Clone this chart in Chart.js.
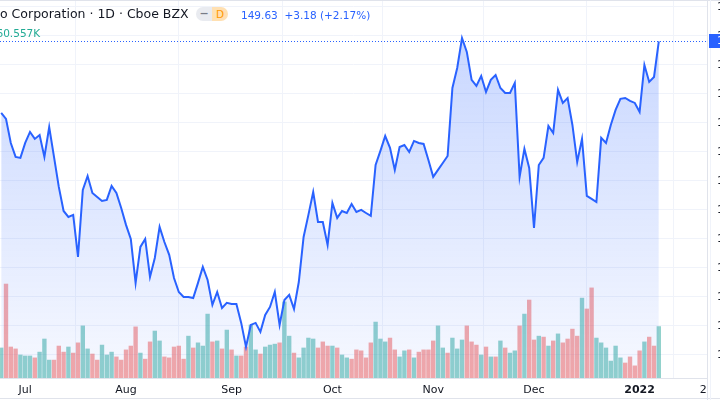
<!DOCTYPE html>
<html>
<head>
<meta charset="utf-8">
<script src="https://cdn.jsdelivr.net/npm/chart.js@4.4.1/dist/chart.umd.min.js"></script>
<style>
    html, body { margin: 0; padding: 0; width: 720px; height: 400px; overflow: hidden; background: #fff; }
    body { position: relative; font-family: 'DejaVu Sans', sans-serif; }
    #wrap { position: absolute; left: 0; top: 0; width: 790px; height: 400px; }
    .lg { position: absolute; white-space: nowrap; }
    #title { left: 0; top: 6px; font-size: 12.5px; line-height: 16px; color: #131722; }
    #badge { left: 196px; top: 7px; height: 14px; width: 32px; border-radius: 7px; overflow: hidden; display: flex; }
    #badge .l { width: 16px; background: #e9ebf0; color: #787b86; font-size: 11px; line-height: 14px; text-align: center; font-weight: bold; }
    #badge .r { width: 16px; background: #ffe0b2; color: #ff9800; font-size: 10.5px; line-height: 14px; text-align: center; }
    #price { left: 241px; top: 8px; font-size: 10.5px; line-height: 14px; color: #2962ff; }
    #vol { left: -3.5px; top: 26px; font-size: 10.5px; line-height: 14px; color: #22ab94; }
</style>
</head>
<body>
<div id="wrap"><canvas id="chart" width="790" height="400"></canvas></div>
<div class="lg" id="title">o Corporation · 1D · Cboe BZX</div>
<div class="lg" id="badge"><div class="l">−</div><div class="r">D</div></div>
<div class="lg" id="price">149.63&nbsp; +3.18 (+2.17%)</div>
<div class="lg" id="vol">60.557K</div>
<script>
// trading-day index of the first point (0 = Jul 1)
const firstIndex = -5;

// daily close
const prices = [
    144.69, 144.28, 142.62, 141.66, 141.59,
    142.62, 143.38, 142.90, 143.17, 141.66, 143.72, 141.66, 139.59, 137.93, 137.52,
    137.66, 134.76, 139.38, 140.34, 139.17, 138.90, 138.62, 138.69, 139.66, 139.17,
    138.14, 136.97, 136.00, 132.97, 135.45, 136.00, 133.38, 134.69, 136.83, 135.79,
    134.90, 133.31, 132.34, 132.00, 132.00, 131.93, 132.97, 134.07, 133.17, 131.45,
    132.34, 131.24, 131.59, 131.52, 131.52, 130.21, 128.55, 130.07, 130.21, 129.59,
    130.76, 131.31, 132.34, 130.07, 131.79, 132.14, 131.17, 133.03, 136.14, 137.66,
    139.24, 137.17, 137.17, 135.59, 138.48, 137.45, 137.93, 137.79, 138.41, 137.86,
    138.00, 137.79, 137.59, 141.10, 142.07, 143.10, 142.28, 140.76, 142.34, 142.48,
    142.00, 142.76, 142.62, 142.55, 141.45, 140.28, 140.76, 141.24, 141.72, 146.41,
    147.79, 149.86, 148.90, 146.97, 146.55, 147.24, 146.14, 146.97, 147.31, 146.41,
    146.07, 146.07, 146.76, 140.28, 142.21, 140.90, 136.76, 141.10, 141.59, 143.79,
    143.31, 146.28, 145.38, 145.72, 143.86, 141.31, 142.90, 138.97, 138.76, 138.55,
    142.97, 142.62, 143.86, 144.90, 145.66, 145.72, 145.52, 145.38, 144.76, 148.00,
    146.83, 147.17, 149.63
];

// daily volume, thousands
const volumes = [
    94, 294, 97, 91, 72,
    69, 69, 63, 81, 122, 56, 56, 100, 81, 97,
    78, 110, 163, 91, 75, 56, 103, 72, 81, 66,
    56, 88, 100, 160, 78, 59, 113, 147, 116, 66,
    63, 97, 100, 59, 131, 94, 110, 100, 200, 113,
    116, 91, 150, 88, 69, 69, 97, 166, 88, 75,
    97, 103, 106, 110, 238, 131, 78, 63, 94, 125,
    122, 94, 113, 100, 100, 94, 72, 63, 59, 88,
    85, 63, 110, 175, 122, 113, 125, 88, 66, 85,
    88, 63, 81, 88, 88, 116, 163, 94, 78, 125,
    91, 119, 163, 113, 103, 72, 97, 66, 66, 116,
    94, 78, 85, 163, 200, 244, 119, 131, 128, 100,
    116, 138, 110, 122, 153, 131, 250, 216, 282, 125,
    110, 94, 53, 100, 63, 47, 66, 38, 85, 113,
    128, 100, 161
];

// 1 = up day (teal), 0 = down day (red)
const volumeUp = [
    1, 0, 0, 0, 1,
    1, 1, 0, 1, 1, 1, 0, 0, 0, 1,
    0, 0, 1, 1, 0, 0, 1, 1, 1, 0,
    0, 0, 0, 0, 1, 0, 0, 1, 1, 0,
    0, 0, 0, 0, 1, 0, 1, 1, 1, 0,
    1, 0, 1, 0, 1, 0, 0, 1, 1, 0,
    1, 1, 1, 0, 1, 1, 0, 1, 1, 1,
    1, 0, 0, 0, 1, 0, 1, 1, 0, 0,
    0, 0, 0, 1, 1, 1, 0, 0, 1, 1,
    0, 1, 0, 0, 0, 0, 1, 1, 0, 1,
    1, 1, 0, 0, 0, 1, 0, 1, 0, 1,
    0, 1, 1, 0, 1, 0, 0, 1, 0, 1,
    0, 1, 0, 0, 0, 0, 1, 0, 0, 1,
    1, 1, 1, 1, 1, 0, 0, 0, 0, 1,
    0, 0, 1
];

// time axis
const timeTicks = [0, 21, 43, 64, 85, 106, 128, 142];
const timeLabels = ['Jul', 'Aug', 'Sep', 'Oct', 'Nov', 'Dec', '2022', '24'];

// price axis
const priceTicks = [128, 130, 132, 134, 136, 138, 140, 142, 144, 146, 148, 150, 152];

Chart.defaults.font.family = "'DejaVu Sans', sans-serif";

// dotted last-price line, price label, panel borders
const lastPricePlugin = {
    id: 'lastPrice',
    afterDatasetsDraw(chart) {
        const { ctx, chartArea } = chart;
        const y = Math.round(chart.scales.y.getPixelForValue(prices[prices.length - 1])) + 0.5;
        ctx.save();
        ctx.strokeStyle = '#2962ff';
        ctx.lineWidth = 1;
        ctx.setLineDash([1, 2]);
        ctx.beginPath();
        ctx.moveTo(chartArea.left, y);
        ctx.lineTo(chartArea.right, y);
        ctx.stroke();
        ctx.restore();
    },
    afterDraw(chart) {
        const { ctx, chartArea } = chart;
        const w = chart.width, h = chart.height;
        ctx.save();
        // time labels stop at the price panel
        ctx.fillStyle = '#fff';
        ctx.fillRect(chartArea.right + 1, chartArea.bottom + 1, w, h);
        ctx.strokeStyle = '#e0e3eb';
        ctx.lineWidth = 1;
        ctx.beginPath();
        ctx.moveTo(chartArea.right + 0.5, 0);
        ctx.lineTo(chartArea.right + 0.5, h);
        ctx.moveTo(0, 0.5);
        ctx.lineTo(w, 0.5);
        ctx.moveTo(0, h - 1.5);
        ctx.lineTo(w, h - 1.5);
        ctx.stroke();
        ctx.strokeStyle = '#f0f3fa';
        ctx.beginPath();
        ctx.moveTo(chartArea.right + 3.5, 0);
        ctx.lineTo(chartArea.right + 3.5, h);
        ctx.stroke();
        // last price label
        const last = prices[prices.length - 1];
        const y = chart.scales.y.getPixelForValue(last);
        ctx.fillStyle = '#2962ff';
        ctx.fillRect(chartArea.right + 2, Math.round(y) - 7, 80, 14);
        ctx.fillStyle = '#fff';
        ctx.font = "11px 'DejaVu Sans'";
        ctx.textBaseline = 'middle';
        ctx.fillText(last.toFixed(2), chartArea.right + 10, y);
        ctx.restore();
    }
};

// no extra room for half-labels at the ends of the axes
function noEndPadding(s) {
    s.paddingTop = 0;
    s.paddingBottom = 0;
    s.paddingLeft = 0;
    s.paddingRight = 0;
}

const xs = prices.map((_, k) => firstIndex + k);

new Chart(document.getElementById('chart').getContext('2d'), {
    data: {
        datasets: [
            {
                type: 'line',
                data: xs.map((x, k) => ({ x: x, y: prices[k] })),
                yAxisID: 'y',
                borderColor: '#2962ff',
                borderWidth: 2,
                pointRadius: 0,
                tension: 0,
                fill: 'start',
                backgroundColor: (c) => {
                    const area = c.chart.chartArea;
                    if (!area) return 'rgba(41,98,255,0.1)';
                    const g = c.chart.ctx.createLinearGradient(0, area.top, 0, area.bottom);
                    g.addColorStop(0, 'rgba(41,98,255,0.28)');
                    g.addColorStop(1, 'rgba(41,98,255,0.04)');
                    return g;
                },
                order: 1
            },
            {
                type: 'bar',
                data: xs.map((x, k) => ({ x: x, y: volumes[k] })),
                yAxisID: 'vol',
                backgroundColor: volumeUp.map(u => u ? 'rgba(38,166,154,0.5)' : 'rgba(239,83,80,0.5)'),
                barThickness: 3.7,
                order: 2
            }
        ]
    },
    options: {
        responsive: false,
        animation: false,
        layout: { padding: 0 },
        plugins: {
            legend: { display: false },
            tooltip: { enabled: false }
        },
        scales: {
            x: {
                type: 'linear',
                min: -5.25,
                max: 142.04,
                offset: false,
                grid: { color: '#f0f3fa', drawTicks: false },
                border: { color: '#e0e3eb' },
                afterBuildTicks: (s) => { s.ticks = timeTicks.map(v => ({ value: v })); },
                afterFit: (s) => { s.height = 22; noEndPadding(s); },
                ticks: {
                    autoSkip: false,
                    maxRotation: 0,
                    padding: 6,
                    color: '#131722',
                    font: (c) => ({ size: 11, weight: (c.tick && c.tick.value === 128) ? 'bold' : 'normal' }),
                    callback: (v, i) => timeLabels[i]
                }
            },
            y: {
                position: 'right',
                min: 126.41,
                max: 152.48,
                grid: { color: '#f0f3fa', drawTicks: false },
                border: { color: '#e0e3eb' },
                afterBuildTicks: (s) => { s.ticks = priceTicks.map(v => ({ value: v })); },
                afterFit: (s) => { s.width = 83; noEndPadding(s); },
                ticks: {
                    padding: 10,
                    color: '#131722',
                    font: { size: 11 },
                    callback: (v) => v.toFixed(2)
                }
            },
            vol: {
                display: false,
                min: 0,
                max: 1183
            }
        }
    },
    plugins: [lastPricePlugin]
});
</script>
</body>
</html>
